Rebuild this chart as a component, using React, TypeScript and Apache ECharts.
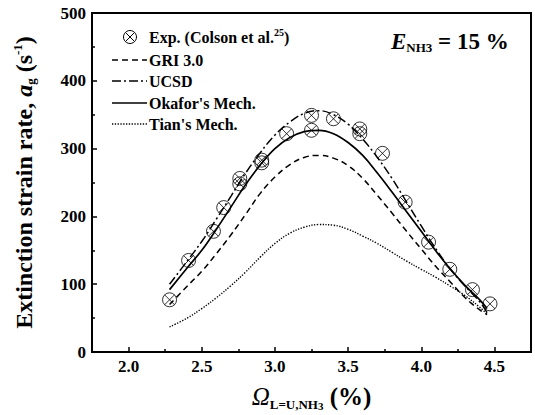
import React, { useEffect, useRef } from "react";
import * as echarts from "echarts";

const FONT = "'Liberation Serif', 'Times New Roman', serif";

// Experimental data (Colson et al.)
const expX = [2.28, 2.41, 2.58, 2.65, 2.76, 2.76, 2.91, 2.91, 3.08, 3.25, 3.25, 3.4, 3.58, 3.58, 3.735, 3.89, 4.05, 4.195, 4.35, 4.47];
const expY = [77, 135, 178, 213, 248, 256, 279, 283, 322, 327, 349, 344, 322, 329, 293, 221, 162, 122, 92, 71];

// Model curves
const curveX = [2.28, 2.4, 2.5, 2.6, 2.7, 2.8, 2.9, 3.0, 3.1, 3.2, 3.3, 3.4, 3.5, 3.6, 3.7, 3.8, 3.9, 4.0, 4.1, 4.2, 4.3, 4.4, 4.45];
const gri = [70, 97, 119, 145, 173, 203, 234, 258, 276, 287, 290, 286, 275, 256, 231, 205, 178, 152, 126, 103, 80, 62, 55];
const ucsd = [100, 134, 163, 196, 230, 264, 294, 320, 339, 352, 356, 350, 336, 314, 287, 256, 221, 186, 152, 122, 97, 74, 58];
const okafor = [92, 124, 150, 181, 214, 247, 276, 300, 316, 325, 327, 322, 309, 290, 264, 236, 207, 178, 149, 122, 98, 77, 64];
const tian = [37, 50, 64, 80, 98, 118, 140, 160, 175, 184, 188, 187, 181, 171, 160, 147, 134, 122, 110, 97, 83, 66, 56];

const xMajor = [2.0, 2.5, 3.0, 3.5, 4.0, 4.5];
const xMinor = [2.25, 2.75, 3.25, 3.75, 4.25];

const legendNames = ["Exp. (Colson et al.", "GRI 3.0", "UCSD", "Okafor's Mech.", "Tian's Mech."];

const OTIMES =
  "path://M10 0A10 10 0 1 1 -10 0A10 10 0 1 1 10 0Z M-7.07 -7.07L7.07 7.07M-7.07 7.07L7.07 -7.07";

const pairs = (xs: number[], ys: number[]) => xs.map((x, i) => [x, ys[i]]);

export default function App() {
  const ref = useRef<HTMLDivElement>(null);
  useEffect(() => {
    if (!ref.current) return;
    const chart = echarts.init(ref.current, null, { renderer: "svg" });
    const lineTypes: any[] = [[6, 4], [9, 3, 2, 3], "solid", [1.3, 1.5]];
    const lineWidths = [1.5, 1.5, 1.7, 1.4];
    const legendY = [60, 81, 103, 124];
    const legendGraphics: any[] = [
      {
        type: "group",
        x: 130,
        y: 37,
        children: [
          { type: "circle", shape: { cx: 0, cy: 0, r: 6.5 }, style: { fill: "none", stroke: "#000", lineWidth: 1 } },
          { type: "line", shape: { x1: -4.6, y1: -4.6, x2: 4.6, y2: 4.6 }, style: { stroke: "#000", lineWidth: 1 } },
          { type: "line", shape: { x1: -4.6, y1: 4.6, x2: 4.6, y2: -4.6 }, style: { stroke: "#000", lineWidth: 1 } },
        ],
      },
      {
        type: "text",
        x: 149,
        y: 37,
        style: {
          text: "{t|" + legendNames[0] + "}{sup|25}{t|)}",
          rich: {
            t: { fontFamily: FONT, fontWeight: "bold", fontSize: 16, fill: "#000" },
            sup: { fontFamily: FONT, fontWeight: "bold", fontSize: 10, fill: "#000", padding: [0, 0, 9, 0] },
          },
          verticalAlign: "middle",
        },
      },
    ];
    legendY.forEach((y, i) => {
      legendGraphics.push({
        type: "line",
        shape: { x1: 112, y1: y, x2: 147, y2: y },
        style: { stroke: "#000", lineWidth: lineWidths[i], lineDash: lineTypes[i] === "solid" ? null : lineTypes[i] },
      });
      legendGraphics.push({
        type: "text",
        x: 149,
        y: y,
        style: {
          text: legendNames[i + 1],
          fontFamily: FONT,
          fontWeight: "bold",
          fontSize: 16,
          fill: "#000",
          verticalAlign: "middle",
        },
      });
    });
    legendGraphics.push({
      type: "text",
      x: 391,
      y: 41,
      style: {
        text: "{e|E}{sub|NH3}{n| = 15 %}",
        verticalAlign: "middle",
        rich: {
          e: { fontFamily: FONT, fontWeight: "bold", fontStyle: "italic", fontSize: 23, fill: "#000" },
          sub: { fontFamily: FONT, fontWeight: "bold", fontSize: 13, fill: "#000", padding: [12, 0, 0, 0] },
          n: { fontFamily: FONT, fontWeight: "bold", fontSize: 23, fill: "#000" },
        },
      },
    });

    const mkLine = (name: string, data: number[], i: number) => ({
      name,
      type: "line",
      xAxisIndex: 0,
      yAxisIndex: 0,
      data: pairs(curveX, data),
      smooth: 0.4,
      showSymbol: false,
      symbol: "none",
      lineStyle: { color: "#000", width: lineWidths[i], type: lineTypes[i] },
      z: 2,
    });

    chart.setOption({
      animation: false,
      backgroundColor: "#fff",
      grid: {
        left: 92,
        right: 4,
        top: 13,
        bottom: 63,
        containLabel: false,
        outerBoundsMode: "none",
        show: true,
        borderColor: "#000",
        borderWidth: 2,
        backgroundColor: "transparent",
      },
      xAxis: [
        {
          type: "value",
          min: 1.75,
          max: 4.75,
          position: "bottom",
          axisLine: { show: true, onZero: false, lineStyle: { color: "#000", width: 2 } },
          axisTick: { show: true, inside: true, length: 5, customValues: xMajor, lineStyle: { color: "#000", width: 1.5 } },
          axisLabel: {
            customValues: xMajor,
            formatter: (v: number) => v.toFixed(1),
            fontFamily: FONT,
            fontWeight: "bold",
            fontSize: 17,
            color: "#000",
            margin: 6,
          },
          splitLine: { show: false },
          name: "{o|Ω}{sub|L=U,NH}{sub3|3}{n| (%)}",
          nameLocation: "middle",
          nameGap: 30,
          nameTextStyle: {
            rich: {
              o: { fontFamily: FONT, fontStyle: "italic", fontSize: 25, color: "#000" },
              sub: { fontFamily: FONT, fontWeight: "bold", fontSize: 13, color: "#000", padding: [16, 0, 0, 0] },
              sub3: { fontFamily: FONT, fontWeight: "bold", fontSize: 11, color: "#000", padding: [18, 0, 0, 0] },
              n: { fontFamily: FONT, fontWeight: "bold", fontSize: 25, color: "#000" },
            },
          },
        },
        {
          type: "value",
          min: 1.75,
          max: 4.75,
          position: "bottom",
          axisLine: { show: false },
          axisTick: { show: true, inside: true, length: 3, customValues: xMinor, lineStyle: { color: "#000", width: 1.5 } },
          axisLabel: { show: false },
          splitLine: { show: false },
        },
      ],
      yAxis: {
        type: "value",
        min: 0,
        max: 500,
        interval: 100,
        axisLine: { show: true, lineStyle: { color: "#000", width: 2 } },
        axisTick: { show: true, inside: true, length: 5, lineStyle: { color: "#000", width: 1.5 } },
        minorTick: { show: true, splitNumber: 2, length: 3, lineStyle: { color: "#000", width: 1.5 } },
        axisLabel: { fontFamily: FONT, fontWeight: "bold", fontSize: 17, color: "#000", margin: 6 },
        splitLine: { show: false },
        name: "{t|Extinction strain rate, }{a|a}{sub|g}{t| (s}{sup|-1}{t|)}",
        nameLocation: "middle",
        nameRotate: 90,
        nameGap: 55,
        nameTextStyle: {
          rich: {
            t: { fontFamily: FONT, fontWeight: "bold", fontSize: 24, color: "#000" },
            a: { fontFamily: FONT, fontWeight: "bold", fontStyle: "italic", fontSize: 24, color: "#000" },
            sub: { fontFamily: FONT, fontWeight: "bold", fontSize: 13, color: "#000", padding: [13, 0, 0, 0] },
            sup: { fontFamily: FONT, fontWeight: "bold", fontSize: 13, color: "#000", padding: [0, 0, 13, 0] },
          },
        },
      },
      series: [
        mkLine(legendNames[1], gri, 0),
        mkLine(legendNames[2], ucsd, 1),
        mkLine(legendNames[3], okafor, 2),
        mkLine(legendNames[4], tian, 3),
        {
          name: legendNames[0],
          type: "scatter",
          xAxisIndex: 0,
          yAxisIndex: 0,
          data: pairs(expX, expY),
          symbol: OTIMES,
          symbolSize: 14,
          itemStyle: { color: "rgba(0,0,0,0)", borderColor: "#000", borderWidth: 1 },
          z: 3,
        },
      ],
      graphic: legendGraphics,
    });
    return () => chart.dispose();
  }, []);
  return (
    <div
      ref={ref}
      style={{ position: "fixed", left: 0, top: 0, width: 535, height: 415, background: "#fff" }}
    />
  );
}
